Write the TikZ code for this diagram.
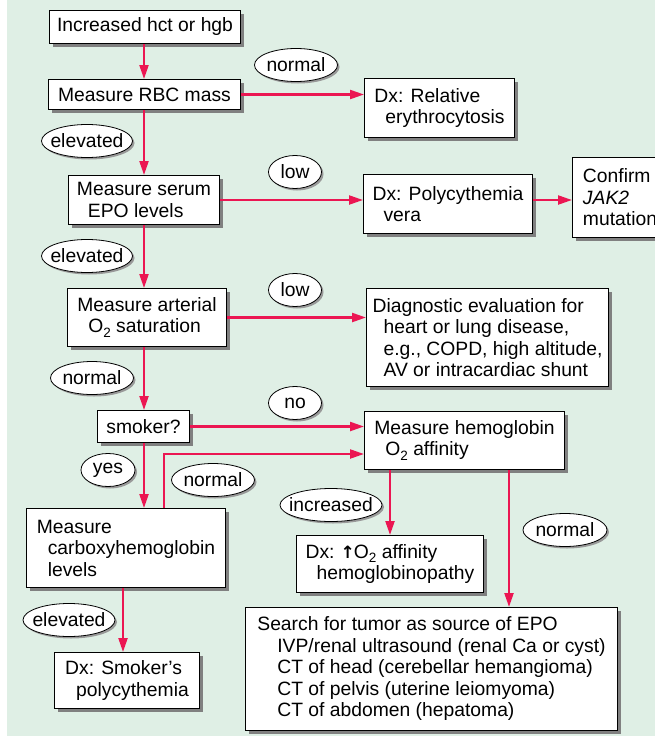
\documentclass[tikz,border=0pt]{standalone}
\usepackage{fontspec}
\setmainfont{Liberation Sans}
\newfontfamily\arrowfont{DejaVu Sans}
\usetikzlibrary{arrows.meta,shapes.geometric,shadows}
\definecolor{bggreen}{RGB}{223,239,229}
\definecolor{flowred}{RGB}{235,22,82}
\newcommand{\tb}{\hspace*{11pt}}
\newcommand{\lbl}[1]{\makebox[0pt]{#1}}
\newcommand{\subtwo}{\raisebox{-4.5pt}{\fontsize{13.5}{13.5}\selectfont 2}}
\newcommand{\uparr}{{\arrowfont\bfseries\fontsize{17}{17}\selectfont\kern-1pt↑\kern-1pt}}

\begin{document}
\begin{tikzpicture}[x=1pt,y=-1pt,
  box/.style={draw, fill=white, line width=1pt, anchor=north west, align=left,
    inner sep=2pt, font=\fontsize{19.3}{21.5}\selectfont,
    drop shadow={shadow xshift=3pt, shadow yshift=-3pt, fill=black!50, opacity=1}},
  tag/.style={ellipse, draw, fill=white, line width=0.8pt, inner sep=0pt,
    minimum height=33pt, font=\fontsize{19.3}{21.5}\selectfont,
    drop shadow={shadow xshift=2pt, shadow yshift=-2pt, fill=black!40, opacity=1}},
  link/.style={draw=flowred, line width=2.2pt, -{Triangle[length=14pt,width=9pt]}}]
  \useasboundingbox (0,0) rectangle (655,736);
  \fill[bggreen] (7,0) rectangle (655,736);

  % main column
  \node[box, minimum width=191pt, minimum height=33pt] (start) at (49,10) {Increased hct or hgb};
  \node[box, minimum width=192pt, minimum height=30pt] (rbc) at (48,79) {Measure RBC mass};
  \node[box, minimum width=151pt, minimum height=49pt] (epo) at (68,175) {Measure serum\\\tb EPO levels};
  \node[box, minimum width=159pt, minimum height=58pt] (sat) at (67,288) {Measure arterial\\\tb O\subtwo{} saturation};
  \node[box, minimum width=92pt, minimum height=32pt] (smoker) at (97,410) {smoker?};
  \node[box, minimum width=199pt, minimum height=79pt] (carboxy) at (26,508) {Measure\\\tb carboxyhemoglobin\\\tb levels};
  \node[box, minimum width=145pt, minimum height=56pt] (smokerdx) at (54,652) {Dx: Smoker’s\\\tb polycythemia};

  % outcomes
  \node[box, minimum width=150pt, minimum height=59pt] (reldx) at (364,78) {Dx: Relative\\\tb erythrocytosis};
  \node[box, minimum width=169pt, minimum height=59pt] (pvdx) at (363,174) {Dx: Polycythemia\\\tb vera};
  \node[box, minimum width=95pt, minimum height=80pt] (jak) at (572,157) {Confirm\\\textit{JAK2}\\mutation};
  \node[box, minimum width=242pt, minimum height=98pt] (diag) at (366,288) {Diagnostic evaluation for\\\tb heart or lung disease,\\\tb e.g., COPD, high altitude,\\\tb AV or intracardiac shunt};
  \node[box, minimum width=200pt, minimum height=58pt] (affinity) at (364,411) {Measure hemoglobin\\\tb O\subtwo{} affinity};
  \node[box, minimum width=187pt, minimum height=57pt] (hbdx) at (296,535) {Dx: \uparr O\subtwo{} affinity\\\tb hemoglobinopathy};
  \node[box, minimum width=372pt, minimum height=123pt] (tumor) at (245,607) {Search for tumor as source of EPO\\
    \hspace*{20pt}IVP/renal ultrasound (renal Ca or cyst)\\
    \hspace*{20pt}CT of head (cerebellar hemangioma)\\
    \hspace*{20pt}CT of pelvis (uterine leiomyoma)\\
    \hspace*{20pt}CT of abdomen (hepatoma)};

  % answers
  \node[tag, minimum width=83pt] (n1) at (296,65) {\lbl{normal}};
  \node[tag, minimum width=91pt] (e1) at (87,141) {\lbl{elevated}};
  \node[tag, minimum width=53pt] (l1) at (295,172) {\lbl{low}};
  \node[tag, minimum width=91pt] (e2) at (87,256) {\lbl{elevated}};
  \node[tag, minimum width=53pt] (l2) at (295,290) {\lbl{low}};
  \node[tag, minimum width=83pt] (n2) at (92,378) {\lbl{normal}};
  \node[tag, minimum width=53pt] (no) at (295,403) {\lbl{no}};
  \node[tag, minimum width=54pt] (yes) at (108,470) {\lbl{yes}};
  \node[tag, minimum width=83pt] (n3) at (213,480) {\lbl{normal}};
  \node[tag, minimum width=102pt] (inc) at (331,505) {\lbl{increased}};
  \node[tag, minimum width=84pt] (n4) at (565,530) {\lbl{normal}};
  \node[tag, minimum width=92pt] (e3) at (69,620) {\lbl{elevated}};

  \coordinate (spine) at (144,0);
  \coordinate (hbx) at (390,0);
  \coordinate (tumorx) at (509,0);
  \coordinate (smokex) at (123,0);
  \coordinate (bend) at (164,454);

  \draw[link] (start.south -| spine) -- (rbc.north -| spine);
  \draw[link] (rbc.south -| spine) -- (epo.north -| spine);
  \draw[link] (epo.south -| spine) -- (sat.north -| spine);
  \draw[link] (sat.south -| spine) -- (smoker.north -| spine);
  \draw[link] (smoker.south -| spine) -- (carboxy.north -| spine);
  \draw[link] (rbc.east) -- (rbc.east -| reldx.west);
  \draw[link] (epo.east) -- (epo.east -| pvdx.west);
  \draw[link] (epo.east -| pvdx.east) -- (epo.east -| jak.west);
  \draw[link] (sat.east) -- (sat.east -| diag.west);
  \draw[link] (smoker.east) -- (smoker.east -| affinity.west);
  \draw[link] (carboxy.north -| bend) -- (bend) -- (bend -| affinity.west);
  \draw[link] (affinity.south -| hbx) -- (hbdx.north -| hbx);
  \draw[link] (affinity.south -| tumorx) -- (tumor.north -| tumorx);
  \draw[link] (carboxy.south -| smokex) -- (smokerdx.north -| smokex);
\end{tikzpicture}
\end{document}
